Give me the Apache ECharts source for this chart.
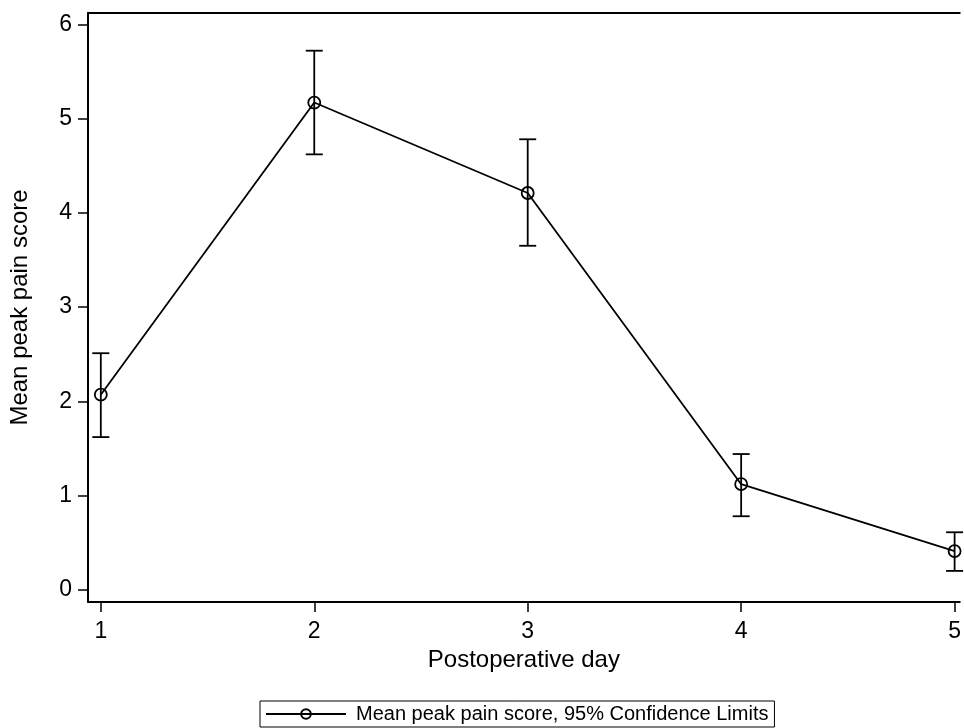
<!DOCTYPE html>
<html>
<head>
<meta charset="utf-8">
<script src="https://cdn.jsdelivr.net/npm/echarts@6/dist/echarts.min.js"></script>
<style>
html,body{margin:0;padding:0;background:#fff;}
#chart{width:964px;height:728px;}
</style>
</head>
<body>
<div id="chart"></div>
<script>
const days = [1, 2, 3, 4, 5];
const meanScore = [2.07, 5.17, 4.21, 1.12, 0.41];
const upperCI = [2.51, 5.72, 4.78, 1.44, 0.61];
const lowerCI = [1.62, 4.62, 3.65, 0.78, 0.20];
const xTicks = [1, 2, 3, 4, 5];
const yTicks = [0, 1, 2, 3, 4, 5, 6];
const seriesName = 'Mean peak pain score, 95% Confidence Limits';

const FONT = "'Liberation Sans', Arial, sans-serif";
const chart = echarts.init(document.getElementById('chart'), null, {renderer: 'canvas'});

const lineData = days.map((d, i) => [d, meanScore[i]]);
const errData = days.map((d, i) => [d, lowerCI[i], upperCI[i]]);

const option = {
  backgroundColor: '#fff',
  animation: false,
  textStyle: {fontFamily: FONT, color: '#000'},
  grid: {left: 88, top: 13, right: 0, bottom: 126, containLabel: false},
  legend: {
    data: [seriesName],
    left: 260,
    top: 701,
    padding: [3, 6, 3, 5],
    borderColor: '#000',
    borderWidth: 1,
    itemWidth: 80,
    itemHeight: 12,
    textStyle: {fontFamily: FONT, fontSize: 20, color: '#000', padding: [0, 0, 0, 5]}
  },
  xAxis: [{
    type: 'value',
    min: 0.94,
    max: 5.024,
    position: 'bottom',
    name: 'Postoperative day',
    nameLocation: 'middle',
    nameGap: 46,
    nameTextStyle: {fontFamily: FONT, fontSize: 24, color: '#000'},
    axisLine: {show: true, onZero: false, lineStyle: {color: '#000', width: 2}},
    axisTick: {show: true, length: 10, lineStyle: {color: '#000', width: 1.5}, customValues: xTicks},
    axisLabel: {show: true, margin: 18, fontFamily: FONT, fontSize: 23, color: '#000', customValues: xTicks},
    splitLine: {show: false}
  }, {
    type: 'value',
    min: 0.94,
    max: 5.024,
    position: 'top',
    axisLine: {show: true, onZero: false, lineStyle: {color: '#000', width: 2}},
    axisTick: {show: false},
    axisLabel: {show: false},
    splitLine: {show: false}
  }],
  yAxis: {
    type: 'value',
    min: -0.13,
    max: 6.12,
    name: 'Mean peak pain score',
    nameLocation: 'middle',
    nameGap: 56,
    nameTextStyle: {fontFamily: FONT, fontSize: 24, color: '#000'},
    axisLine: {show: true, onZero: false, lineStyle: {color: '#000', width: 2}},
    axisTick: {show: true, length: 10, lineStyle: {color: '#000', width: 1.5}, customValues: yTicks},
    axisLabel: {show: true, margin: 16, fontFamily: FONT, fontSize: 23, color: '#000', customValues: yTicks},
    splitLine: {show: false}
  },
  series: [{
    name: seriesName,
    type: 'line',
    data: lineData,
    xAxisIndex: 0,
    symbol: 'circle',
    symbolSize: 12,
    clip: false,
    lineStyle: {color: '#000', width: 1.8},
    itemStyle: {color: 'rgba(0,0,0,0)', borderColor: '#000', borderWidth: 1.8},
    z: 3
  }, {
    name: 'CI',
    type: 'custom',
    xAxisIndex: 0,
    clip: false,
    data: errData,
    encode: {x: 0, y: [1, 2]},
    renderItem: function (params, api) {
      const x = api.value(0);
      const lo = api.coord([x, api.value(1)]);
      const hi = api.coord([x, api.value(2)]);
      const hw = 8.5;
      const style = {stroke: '#000', lineWidth: 1.8, fill: null};
      return {
        type: 'group',
        children: [
          {type: 'line', shape: {x1: lo[0], y1: lo[1], x2: hi[0], y2: hi[1]}, style: style},
          {type: 'line', shape: {x1: lo[0] - hw, y1: lo[1], x2: lo[0] + hw, y2: lo[1]}, style: style},
          {type: 'line', shape: {x1: hi[0] - hw, y1: hi[1], x2: hi[0] + hw, y2: hi[1]}, style: style}
        ]
      };
    },
    z: 2
  }]
};
chart.setOption(option);
</script>
</body>
</html>
